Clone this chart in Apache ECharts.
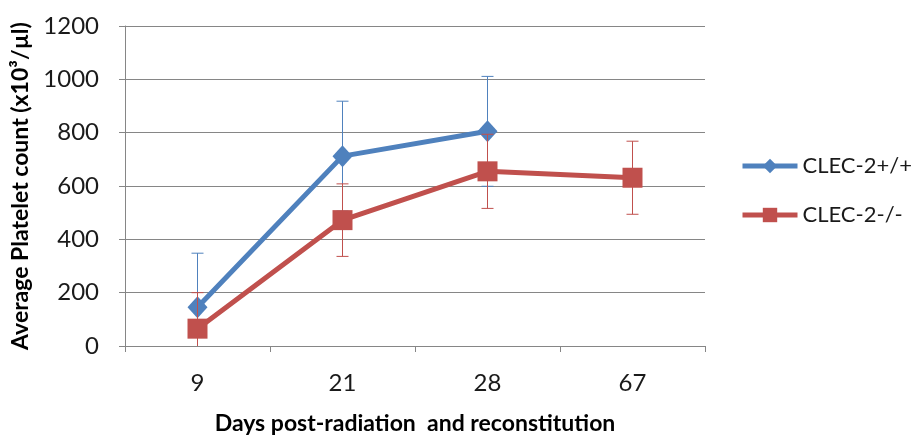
<!DOCTYPE html>
<html>
<head>
<meta charset="utf-8">
<script src="https://cdn.jsdelivr.net/npm/echarts@6/dist/echarts.min.js"></script>
<style>html,body{margin:0;padding:0;background:#fff}#c{width:917px;height:440px}</style>
</head>
<body>
<div id="c"></div>
<script>
const categories = ['9', '21', '28', '67'];
const seriesNames = ['CLEC-2+/+', 'CLEC-2-/-'];
const wildType = [145, 712, 805, null];
const wildTypeErr = [203, 206, 206, null];
const knockout = [65, 472, 655, 631];
const knockoutErr = [135, 136, 139, 137];
const yTicks = [0, 200, 400, 600, 800, 1000, 1200];

const FONT = 'Lato';
const blue = '#4F81BD';
const red = '#C0504D';
const yMin = yTicks[0], yMax = yTicks[yTicks.length - 1];

function errData(vals, errs) {
  return vals.map((v, i) => v == null ? null : [i, v, errs[i]]).filter(d => d);
}
function errRender(color) {
  return function (params, api) {
    const x = api.value(0), v = api.value(1), e = api.value(2);
    const hi = v + e, lo = v - e;
    const top = api.coord([x, Math.min(hi, yMax)]);
    const bot = api.coord([x, Math.max(lo, yMin)]);
    const cap = 6;
    const children = [{
      type: 'line', shape: { x1: top[0], y1: top[1], x2: bot[0], y2: bot[1] },
      style: { stroke: color, lineWidth: 1 }
    }];
    if (hi <= yMax) children.push({ type: 'line', shape: { x1: top[0] - cap, y1: top[1], x2: top[0] + cap, y2: top[1] }, style: { stroke: color, lineWidth: 1 } });
    if (lo >= yMin) children.push({ type: 'line', shape: { x1: bot[0] - cap, y1: bot[1], x2: bot[0] + cap, y2: bot[1] }, style: { stroke: color, lineWidth: 1 } });
    return { type: 'group', children };
  };
}

const chart = echarts.init(document.getElementById('c'), null, { renderer: 'canvas' });
chart.setOption({
  animation: false,
  backgroundColor: '#fff',
  textStyle: { fontFamily: FONT },
  grid: { left: 125, right: 212, top: 26, bottom: 92 },
  legend: {
    orient: 'vertical', left: 740, top: 155, padding: 0,
    itemWidth: 55, itemHeight: 18, itemGap: 27,
    data: seriesNames,
    lineStyle: { width: 5 },
    textStyle: { fontFamily: FONT, fontSize: 22, color: '#1a1a1a', padding: [0, 0, 0, 0] }
  },
  xAxis: {
    type: 'category', data: categories, boundaryGap: true,
    axisLine: { lineStyle: { color: '#868686', width: 1 } },
    axisTick: { show: true, length: 6, lineStyle: { color: '#868686' } },
    axisLabel: { fontFamily: FONT, fontSize: 24, color: '#1a1a1a', margin: 25 },
    name: 'Days post-radiation  and reconstitution',
    nameLocation: 'middle', nameGap: 66,
    nameTextStyle: { fontFamily: FONT, fontSize: 23, fontWeight: 'bold', color: '#000' }
  },
  yAxis: {
    type: 'value', min: yMin, max: yMax, interval: 200,
    axisLine: { show: true, lineStyle: { color: '#868686', width: 1 } },
    axisTick: { show: true, length: 6, lineStyle: { color: '#868686' } },
    axisLabel: { fontFamily: FONT, fontSize: 24, color: '#1a1a1a', margin: 26, formatter: v => String(v) },
    splitLine: { lineStyle: { color: '#868686', width: 1 } },
    name: 'Average Platelet count (x10³/µl)',
    nameLocation: 'middle', nameGap: 92,
    nameTextStyle: { fontFamily: FONT, fontSize: 23, fontWeight: 'bold', color: '#000' }
  },
  series: [
    {
      name: seriesNames[0], type: 'line', data: wildType,
      symbol: 'diamond', symbolSize: [20, 22],
      lineStyle: { color: blue, width: 5 }, itemStyle: { color: blue },
      z: 2
    },
    {
      type: 'custom', data: errData(wildType, wildTypeErr),
      renderItem: errRender(blue), z: 2, silent: true
    },
    {
      name: seriesNames[1], type: 'line', data: knockout,
      symbol: 'rect', symbolSize: 20,
      lineStyle: { color: red, width: 5 }, itemStyle: { color: red },
      z: 3
    },
    {
      type: 'custom', data: errData(knockout, knockoutErr),
      renderItem: errRender(red), z: 3, silent: true
    }
  ]
});
</script>
</body>
</html>
